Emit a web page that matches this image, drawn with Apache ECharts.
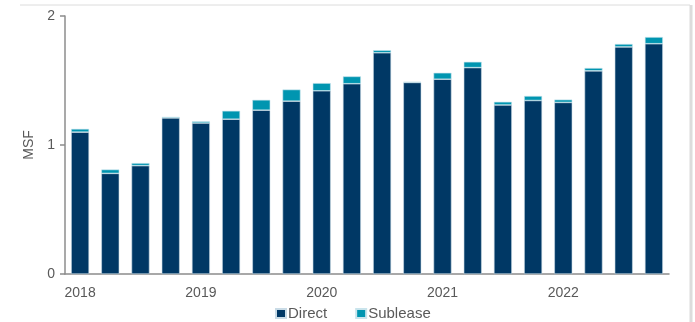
<!DOCTYPE html>
<html>
<head>
<meta charset="utf-8">
<script src="https://cdn.jsdelivr.net/npm/echarts@6/dist/echarts.min.js"></script>
<style>
html, body { margin: 0; padding: 0; background: #fff; }
#main { width: 695px; height: 322px; }
</style>
</head>
<body>
<div id="main"></div>
<script>
// quarters 2018 Q1 .. 2022 Q4
var quarters = [
    "2018 Q1", "2018 Q2", "2018 Q3", "2018 Q4",
    "2019 Q1", "2019 Q2", "2019 Q3", "2019 Q4",
    "2020 Q1", "2020 Q2", "2020 Q3", "2020 Q4",
    "2021 Q1", "2021 Q2", "2021 Q3", "2021 Q4",
    "2022 Q1", "2022 Q2", "2022 Q3", "2022 Q4"
];
var direct = [1.10, 0.78, 0.84, 1.21, 1.17, 1.20, 1.27, 1.34, 1.42, 1.475,
              1.715, 1.485, 1.51, 1.60, 1.31, 1.345, 1.33, 1.575, 1.76, 1.785];
var sublease = [0.025, 0.03, 0.02, 0.008, 0.013, 0.065, 0.08, 0.09, 0.06, 0.057,
                0.02, 0.005, 0.05, 0.045, 0.025, 0.035, 0.022, 0.022, 0.023, 0.052];
var yTicks = [0, 1, 2];

var grey = "#595959";
var axisGrey = "#8c8c8c";

var myChart = echarts.init(document.getElementById("main"));

var option = {
    animation: false,
    textStyle: { fontFamily: "Liberation Sans, Arial, sans-serif" },
    grid: { left: 65, right: 26, top: 16, bottom: 48 },
    legend: {
        top: 306,
        left: 275,
        padding: 0,
        itemWidth: 10,
        itemHeight: 9,
        itemGap: 28,
        icon: "rect",
        textStyle: { color: grey, fontSize: 15, padding: [0, 0, 0, -3] },
        data: ["Direct", "Sublease"]
    },
    xAxis: {
        type: "category",
        data: quarters,
        axisLine: { lineStyle: { color: axisGrey, width: 1.5 } },
        axisTick: { interval: 3, length: 5, lineStyle: { color: axisGrey, width: 1.5 } },
        axisLabel: {
            interval: 3,
            color: grey,
            fontSize: 14,
            margin: 12,
            formatter: function (v) { return v.slice(0, 4); }
        }
    },
    yAxis: {
        type: "value",
        min: yTicks[0],
        max: yTicks[yTicks.length - 1],
        interval: 1,
        name: "MSF",
        nameLocation: "middle",
        nameGap: 28,
        nameTextStyle: { color: grey, fontSize: 14 },
        splitLine: { show: false },
        axisLine: { show: true, lineStyle: { color: axisGrey, width: 1.5 } },
        axisTick: { show: true, length: 5, lineStyle: { color: axisGrey, width: 1.5 } },
        axisLabel: { color: grey, fontSize: 14, margin: 10 }
    },
    series: [
        {
            name: "Direct",
            type: "bar",
            stack: "total",
            barWidth: 18,
            itemStyle: { color: "#003865", borderColor: "#c9dbe6", borderWidth: 0.6 },
            data: direct
        },
        {
            name: "Sublease",
            type: "bar",
            stack: "total",
            barWidth: 18,
            itemStyle: { color: "#0095b0", borderColor: "#c9e4ec", borderWidth: 0.6 },
            data: sublease
        }
    ],
    graphic: [
        // light frame of the original panel
        { type: "line", shape: { x1: 20, y1: 5, x2: 690, y2: 5 }, style: { stroke: "#dcdcdc", lineWidth: 1 } },
        { type: "line", shape: { x1: 691, y1: 5, x2: 691, y2: 322 }, style: { stroke: "#dcdcdc", lineWidth: 3 } }
    ]
};

myChart.setOption(option);
</script>
</body>
</html>
